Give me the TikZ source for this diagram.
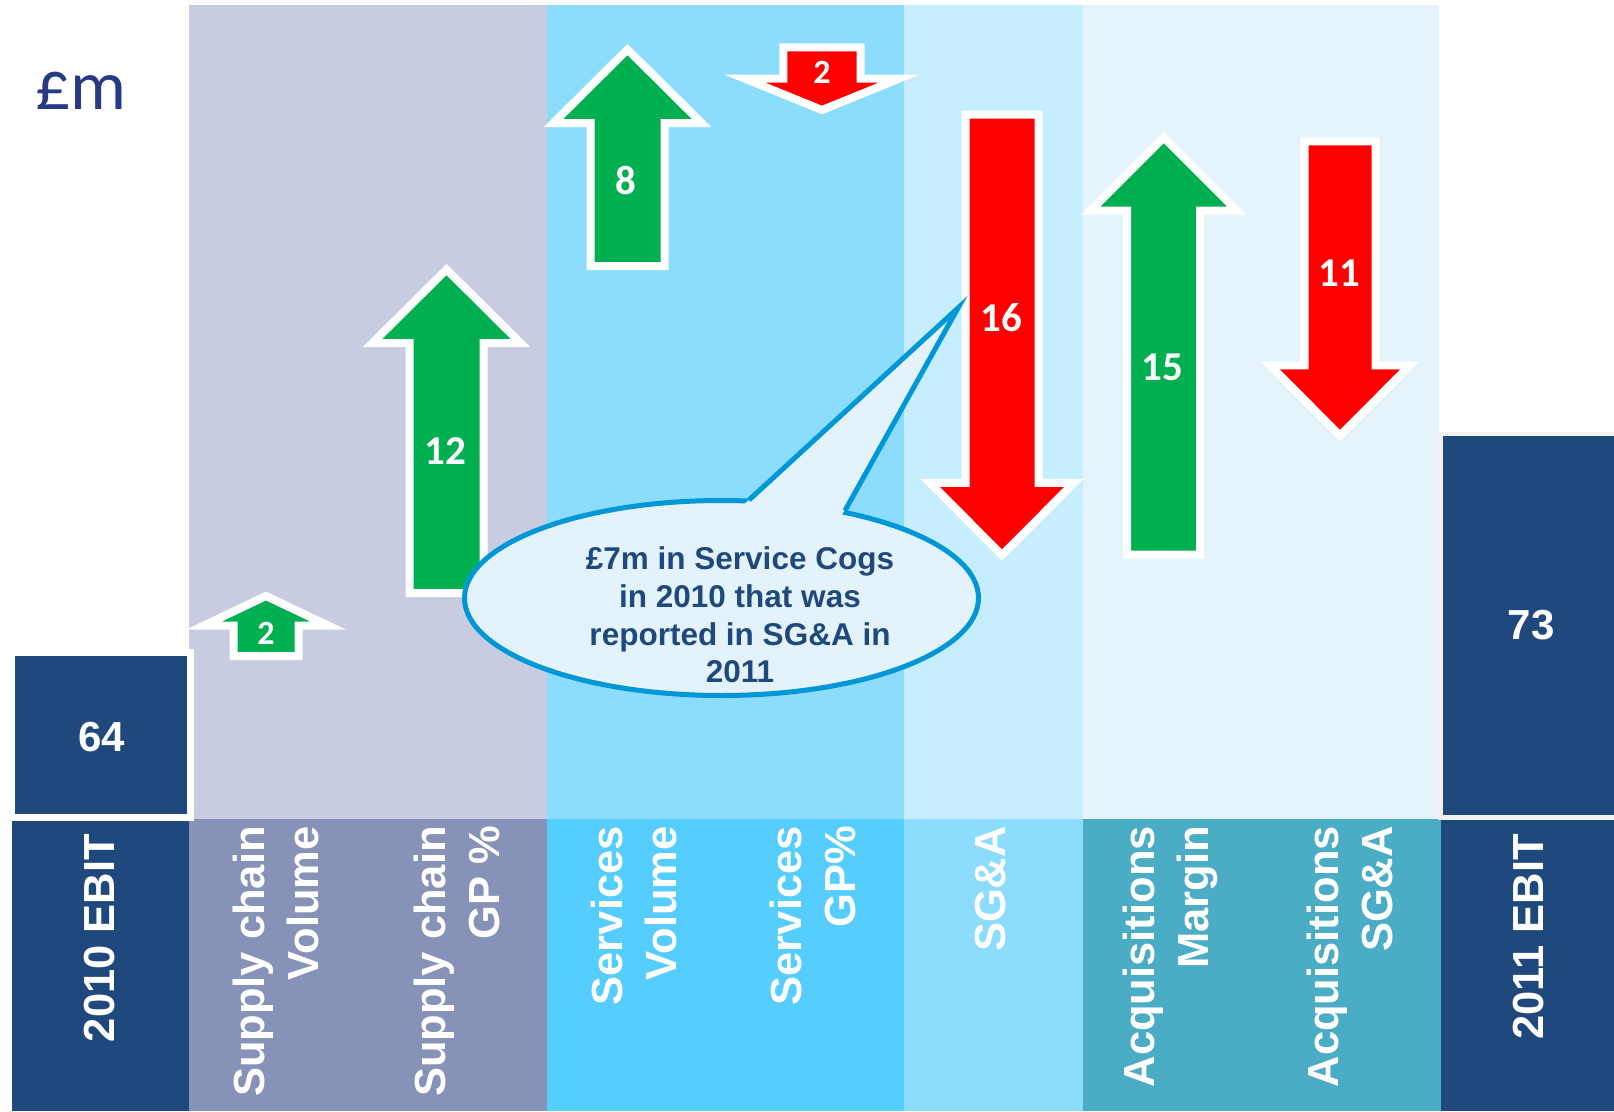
\documentclass[tikz,border=0pt]{standalone}
\usepackage{fontspec}
\setmainfont{Liberation Sans}
\newfontfamily\califont{Carlito}
\usetikzlibrary{shapes.geometric}

\definecolor{panelA}{HTML}{C8CCE0}
\definecolor{bandA}{HTML}{8792B8}
\definecolor{panelB}{HTML}{8CDDFD}
\definecolor{bandB}{HTML}{55CEFF}
\definecolor{panelC}{HTML}{C6EEFE}
\definecolor{bandC}{HTML}{8CDDFD}
\definecolor{panelD}{HTML}{E5F4FB}
\definecolor{bandD}{HTML}{4BACC6}
\definecolor{ebitblue}{HTML}{1F497D}
\definecolor{ebitedge}{HTML}{F0F0F0}
\definecolor{upgreen}{HTML}{00B050}
\definecolor{downred}{HTML}{FF0000}
\definecolor{bubblefill}{HTML}{E4F3FB}
\definecolor{bubbleline}{HTML}{0097D7}
\definecolor{poundblue}{HTML}{283A84}

\tikzset{
    upbar/.style={fill=upgreen, draw=white, line width=8pt, line join=miter},
    downbar/.style={fill=downred, draw=white, line width=8pt, line join=miter},
    val/.style={text=white, inner sep=0pt, font=\califont\bfseries\fontsize{41}{43}\selectfont},
    smallval/.style={val, font=\califont\bfseries\fontsize{34}{36}\selectfont},
    ebitbox/.style={fill=ebitblue, draw=white, line width=7pt},
    ebitnum/.style={text=white, inner sep=0pt, font=\bfseries\fontsize{42}{46}\selectfont},
    cat/.style={rotate=90, anchor=east, align=right, text=white, inner sep=0pt,
        font=\bfseries\fontsize{43.5}{54}\selectfont},
    bubble/.style={ellipse, draw=bubbleline, fill=bubblefill, line width=5pt,
        minimum width=514pt, minimum height=195pt, inner sep=0pt},
    pointer/.style={draw=bubbleline, line width=5pt, line join=miter},
    note/.style={align=center, text=ebitblue, inner sep=0pt,
        font=\bfseries\fontsize{31.5}{37.7}\selectfont}
}

% style, centre x, shaft half width, head half width, tail y, head base y, tip y
\newcommand{\barrow}[7]{%
    \draw[#1] (#2-#3,#5) -- (#2-#3,#6) -- (#2-#4,#6) -- (#2,#7)
        -- (#2+#4,#6) -- (#2+#3,#6) -- (#2+#3,#5) -- cycle;}

\begin{document}
\begin{tikzpicture}[x=1pt, y=-1pt]
    \useasboundingbox (0,0) rectangle (1614,1111);
    \fill[white] (0,0) rectangle (1614,1111);

    \fill[panelA] (189,4.5) rectangle (547,819);
    \fill[panelB] (547,4.5) rectangle (904,819);
    \fill[panelC] (904,4.5) rectangle (1083,819);
    \fill[panelD] (1083,4.5) rectangle (1438.5,819);

    \fill[ebitblue] (11.5,819) rectangle (189,1111);
    \fill[bandA] (189,819) rectangle (547,1111);
    \fill[bandB] (547,819) rectangle (904,1111);
    \fill[bandC] (904,819) rectangle (1083,1111);
    \fill[bandD] (1083,819) rectangle (1441,1111);
    \fill[ebitblue] (1441,819) rectangle (1614,1111);

    \node[font=\califont\fontsize{70}{74}\selectfont, text=poundblue, anchor=base west,
        inner sep=0pt] (unit) at (35,109) {£m};

    \draw[ebitbox] (11.5,652.5) rectangle (190,817.5);
    \node[ebitnum] (e64) at (101.5,737) {64};
    \draw[ebitbox, draw=ebitedge, line width=4.5pt] (1440.5,434) rectangle (1625,817.5);
    \node[ebitnum] (e73) at (1531,625) {73};

    \barrow{upbar}{266}{32.5}{62}{656}{625.5}{596}
    \barrow{upbar}{446.5}{37}{74}{593}{343}{269.5}
    \barrow{upbar}{627.5}{37}{74}{266}{123}{49.5}
    \barrow{downbar}{822}{38.7}{77}{47.3}{78.7}{110}
    \barrow{downbar}{1002}{36.5}{72}{114.5}{482.8}{555}
    \barrow{upbar}{1163.7}{36.5}{73}{554.7}{210.5}{137.5}
    \barrow{downbar}{1340}{35.5}{70}{141.3}{365.3}{435.5}

    \node[smallval] (v2a) at (266,633) {2};
    \node[val] (v12) at (445,451) {12};
    \node[val] (v8) at (626,180) {8};
    \node[smallval] (v2b) at (822,72) {2};
    \node[val] (v16) at (1001,318) {16};
    \node[val] (v15) at (1162,367) {15};
    \node[val] (v11) at (1339,273) {11};

    \node[bubble] (bubble) at (721.5,598) {};
    \coordinate (pl) at (749,500);
    \coordinate (pr) at (845,510.5);
    \coordinate (ptip) at (958,308);
    \fill[bubblefill] (738,510) -- (ptip) -- (839,520) -- cycle;
    \draw[pointer] (pl) -- (ptip) -- (pr);
    \node[note] (notetext) at (740,615) {£7m in Service Cogs\\in 2010 that was\\reported in SG\&A in\\2011};

    \node[cat] (c0) at (100,834) {2010 EBIT};
    \node[cat] (c1) at (276,826) {Supply chain\\Volume};
    \node[cat] (c2) at (457,826) {Supply chain\\GP \%};
    \node[cat] (c3) at (634,826) {Services\\Volume};
    \node[cat] (c4) at (813,826) {Services\\GP\%};
    \node[cat] (c5) at (991,826) {SG\&A};
    \node[cat] (c6) at (1170,826) {Acquisitions\\Margin};
    \node[cat] (c7) at (1349.5,826) {Acquisitions\\SG\&A};
    \node[cat] (c8) at (1528.5,834) {2011 EBIT};
\end{tikzpicture}
\end{document}
